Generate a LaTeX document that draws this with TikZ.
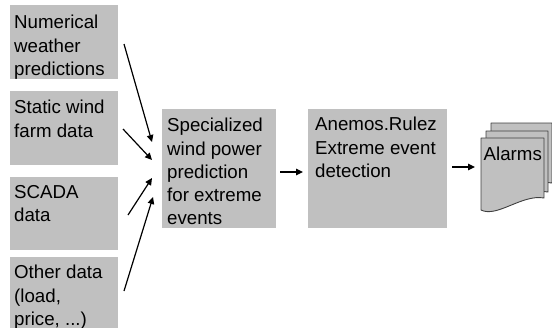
\documentclass[tikz,border=0pt]{standalone}
\usepackage{fontspec}
\setmainfont{Liberation Sans}
\usetikzlibrary{arrows.meta,calc}
\definecolor{boxgray}{HTML}{C0C0C0}
\definecolor{edgegray}{HTML}{404040}
\tikzset{
  box/.style={fill=boxgray,draw=none,inner sep=0pt,outer sep=0pt,anchor=north west},
  label/.style={anchor=north west,inner sep=0pt,align=left,font=\fontsize{18.7pt}{23.3pt}\selectfont},
  arr/.style={line width=1.2pt,-{Triangle[length=7pt,width=6.5pt]}},
  page/.style={fill=boxgray,draw=edgegray,line width=0.9pt,line join=round}
}
\begin{document}
\begin{tikzpicture}[x=1pt,y=-1pt]
\useasboundingbox (0,0) rectangle (552,327);
% input boxes
\node[box,minimum width=108pt,minimum height=74pt] (b1) at (10,5) {};
\node[box,minimum width=108pt,minimum height=74pt] (b2) at (10,91) {};
\node[box,minimum width=108pt,minimum height=73pt] (b3) at (10,177) {};
\node[box,minimum width=108pt,minimum height=72pt] (b4) at (10,257) {};
\node[label] (t1) at (14,15) {Numerical\\weather\\predictions};
\node[label] (t2) at (14,100) {Static wind\\farm data};
\node[label] (t3) at (14,185) {SCADA\\data};
\node[label] (t4) at (14,265) {Other data\\(load,\\price, ...)};
% center box
\node[box,minimum width=114pt,minimum height=119pt] (c) at (162,109) {};
\node[label] (tc) at (167,118) {Specialized\\wind power\\prediction\\for extreme\\events};
% anemos box
\node[box,minimum width=139pt,minimum height=119pt] (a) at (308,109) {};
\node[label] (ta) at (315,117) {Anemos.Rulez\\Extreme event\\detection};
% alarms document stack
\begin{scope}[shift={(491,123)}]
\draw[page] (0,0) -- (61,0) -- (61,60) .. controls (40,56) and (16,80) .. (0,72) -- cycle;
\end{scope}
\begin{scope}[shift={(486,131)}]
\draw[page] (0,0) -- (62,0) -- (62,61) .. controls (41,57) and (16,80) .. (0,72) -- cycle;
\end{scope}
\begin{scope}[shift={(481,138)}]
\draw[page] (0,0) -- (63,0) -- (63,60) .. controls (41,56) and (16,80) .. (0,72) -- cycle;
\end{scope}
\node[inner sep=0pt,outer sep=0pt,minimum width=63pt,minimum height=72pt,anchor=north west] (alarms) at (481,138) {};
\node[label] (tal) at (483.5,147) {Alarms};
% connectors
\draw[arr] ([xshift=6pt,yshift=-2pt]b1.east) -- ([xshift=-10pt,yshift=26.5pt]c.west);
\draw[arr] ([xshift=5pt,yshift=-1pt]b2.east) -- ([xshift=-10pt,yshift=8.5pt]c.west);
\draw[arr] ([xshift=10pt,yshift=-1.5pt]b3.east) -- ([xshift=-10pt,yshift=-9.5pt]c.west);
\draw[arr] ([xshift=6pt,yshift=2pt]b4.east) -- ([xshift=-9pt,yshift=-28.5pt]c.west);
\draw[arr] ([xshift=4pt,yshift=-3.5pt]c.east) -- ([xshift=-5pt,yshift=-3.5pt]a.west);
\draw[arr] ([xshift=5pt,yshift=1.5pt]a.east) -- ([xshift=-6pt,yshift=1.5pt]a.east -| alarms.west);
\end{tikzpicture}
\end{document}
